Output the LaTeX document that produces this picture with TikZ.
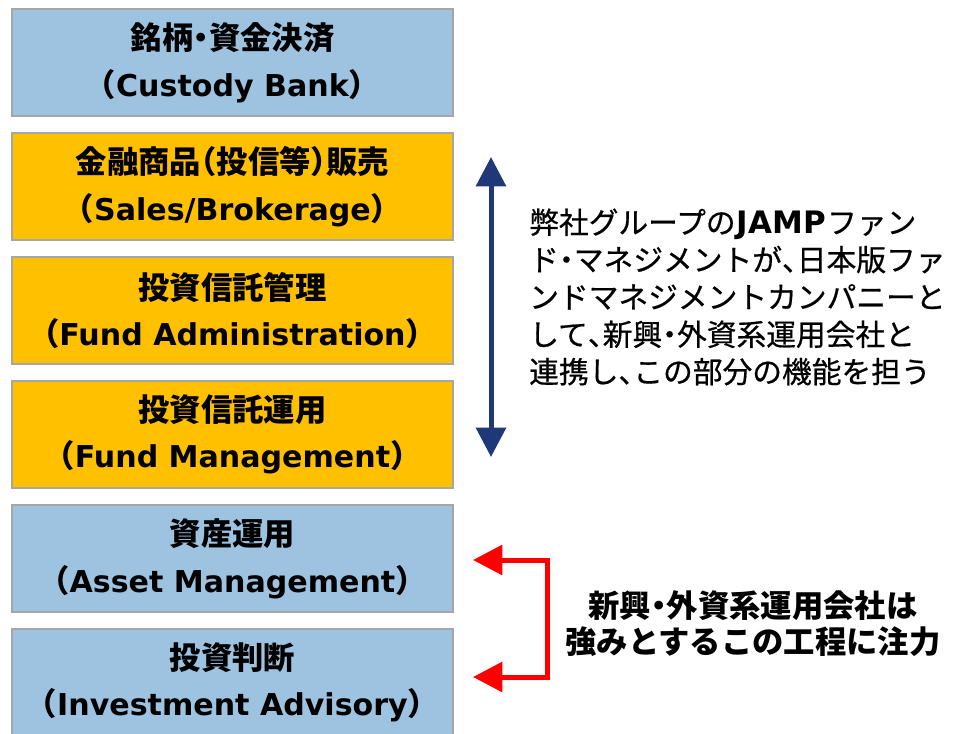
\documentclass[tikz,border=0pt]{standalone}
\usepackage{fontspec}
\setmainfont{Noto Sans CJK JP}
\newfontfamily\jpmed[FakeBold=0.6]{Noto Sans CJK JP}
\newfontfamily\latf[Scale=0.96]{DejaVu Sans}
\newfontfamily\latr[Scale=1.04]{DejaVu Sans}
\newcommand\hw[1]{{\addfontfeature{RawFeature=+halt}#1}}
\newcommand\lt[1]{{\latf\bfseries #1}}
\usetikzlibrary{arrows.meta}
\definecolor{boxblue}{HTML}{9DC3E0}
\definecolor{boxorange}{HTML}{FFC000}
\definecolor{boxborder}{HTML}{A6A6A6}
\definecolor{navyarrow}{HTML}{1F3878}
\begin{document}
\begin{tikzpicture}[x=0.75pt,y=-0.75pt,
  box/.style={draw=boxborder, line width=1.5pt, minimum width=330.75pt, minimum height=80.25pt,
    align=center, inner sep=0pt, font=\fontsize{23.5}{35}\selectfont\bfseries},
  bluebox/.style={box, fill=boxblue},
  orangebox/.style={box, fill=boxorange},
  navyarr/.style={draw=navyarrow, line width=3.75pt, {Triangle[width=22pt,length=22pt]}-{Triangle[width=22pt,length=22pt]}},
  redarr/.style={draw=red, line width=3.75pt, line join=miter, {Triangle[width=22pt,length=22pt]}-{Triangle[width=22pt,length=22pt]}},
  rtext/.style={align=left, inner sep=0pt, font=\fontsize{22.3}{28}\selectfont\jpmed},
  btext/.style={align=center, inner sep=0pt, font=\fontsize{23.5}{27}\selectfont\bfseries}]
\useasboundingbox[fill=white] (0,0) rectangle (953,733);
\node[bluebox] (b1) at (232.5,62.5) {銘柄\hw{・}資金決済\\（\lt{Custody Bank}）};
\node[orangebox] (b2) at (232.5,186.5) {金融商品\hw{（}投信等\hw{）}販売\\（\lt{Sales/Brokerage}）};
\node[orangebox] (b3) at (232.5,310.5) {投資信託管理\\（\lt{Fund Administration}）};
\node[orangebox] (b4) at (232.5,434.5) {投資信託運用\\（\lt{Fund Management}）};
\node[bluebox] (b5) at (232.5,558.5) {資産運用\\（\lt{Asset Management}）};
\node[bluebox] (b6) at (232.5,682.5) {投資判断\\（\lt{Investment Advisory}）};
\coordinate (na) at (491,157);
\coordinate (nb) at (491,457);
\draw[navyarr] (na) -- (nb);
\coordinate (ra) at (473,560);
\coordinate (rb) at (547,560);
\coordinate (rc) at (547,677);
\coordinate (rd) at (473,677);
\draw[redarr] (ra) -- (rb) -- (rc) -- (rd);
\node[rtext, anchor=west] (t1) at (529,297) {弊社グループの\kern1pt{\latr\bfseries JAMP}\kern1pt ファン\\ド\hw{・}マネジメントが\hw{、}日本版ファ\\ンドマネジメントカンパニーと\\して\hw{、}新興\hw{・}外資系運用会社と\\連携し\hw{、}この部分の機能を担う};
\node[btext] (t2) at (753,624) {新興\hw{・}外資系運用会社は\\強みとするこの工程に注力};
\end{tikzpicture}
\end{document}
